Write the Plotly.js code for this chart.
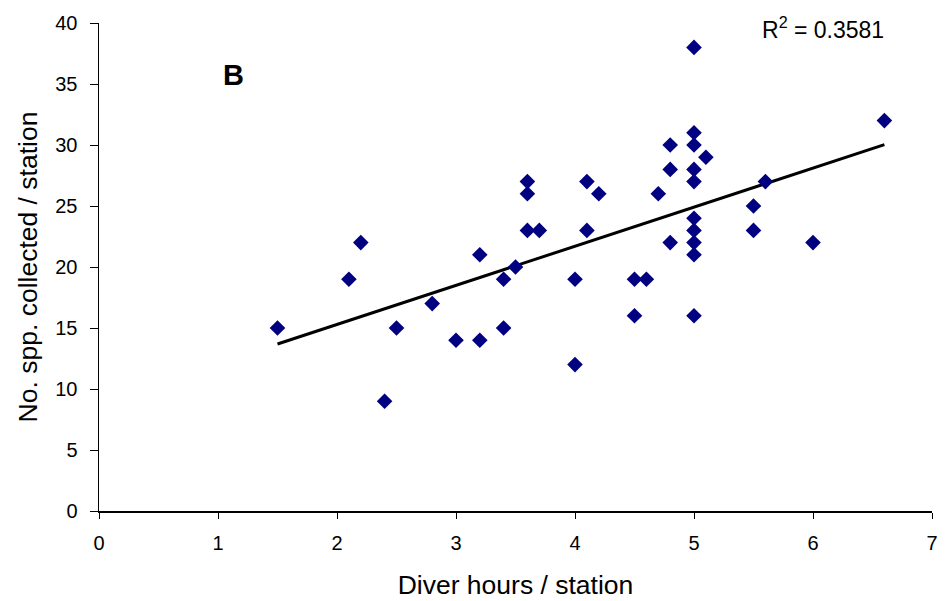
<!DOCTYPE html>
<html>
<head>
<meta charset="utf-8">
<script src="https://cdn.plot.ly/plotly-3.0.1.min.js"></script>
<style>html,body{margin:0;padding:0;background:#fff;}#chart{width:949px;height:601px;}</style>
</head>
<body>
<div id="chart"></div>
<script>
// Diver hours per station
const diverHours = [1.5, 2.1, 2.2, 2.4, 2.5, 2.8, 3.0, 3.2, 3.2, 3.4, 3.4, 3.5,
  3.6, 3.6, 3.6, 3.7, 4.0, 4.0, 4.1, 4.1, 4.2, 4.5, 4.5, 4.6, 4.7,
  4.8, 4.8, 4.8, 5.0, 5.0, 5.0, 5.0, 5.0, 5.0, 5.0, 5.0, 5.0, 5.0,
  5.1, 5.5, 5.5, 5.6, 6.0, 6.6];
// Number of species collected per station
const speciesCount = [15, 19, 22, 9, 15, 17, 14, 21, 14, 19, 15, 20,
  27, 26, 23, 23, 19, 12, 27, 23, 26, 19, 16, 19, 26,
  30, 28, 22, 38, 31, 30, 28, 27, 24, 23, 22, 21, 16,
  29, 25, 23, 27, 22, 32];
const xTicks = [0, 1, 2, 3, 4, 5, 6, 7];
const yTicks = [0, 5, 10, 15, 20, 25, 30, 35, 40];
const r2Label = 'R<sup>2</sup> = 0.3581';
const panelLabel = 'B';

// Least-squares trend line computed from the data
const n = diverHours.length;
const mx = diverHours.reduce((a, b) => a + b, 0) / n;
const my = speciesCount.reduce((a, b) => a + b, 0) / n;
let sxy = 0, sxx = 0;
for (let i = 0; i < n; i++) { sxy += (diverHours[i] - mx) * (speciesCount[i] - my); sxx += (diverHours[i] - mx) ** 2; }
const slope = sxy / sxx, intercept = my - slope * mx;
const xMin = Math.min(...diverHours), xMax = Math.max(...diverHours);
const trendX = [xMin, xMax];
const trendY = trendX.map(x => intercept + slope * x);

const font = 'Arial, "Liberation Sans", sans-serif';
const data = [
  { x: trendX, y: trendY, mode: 'lines', type: 'scatter', line: { color: '#000000', width: 3 }, hoverinfo: 'skip', showlegend: false },
  { x: diverHours, y: speciesCount, mode: 'markers', type: 'scatter',
    marker: { symbol: 'diamond', size: 12, color: '#000080', line: { width: 0 } }, showlegend: false }
];
const layout = {
  width: 949, height: 601,
  margin: { l: 99, r: 17, t: 23, b: 90 },
  paper_bgcolor: '#ffffff', plot_bgcolor: '#ffffff',
  font: { family: font, color: '#000000', size: 20 },
  showlegend: false,
  xaxis: {
    range: [0, 7], tickvals: xTicks, ticktext: xTicks.map(String),
    showgrid: false, zeroline: false, showline: true, linecolor: '#000000', linewidth: 1.5,
    ticks: 'outside', ticklen: 6, tickcolor: '#000000', tickwidth: 1,
    ticklabelstandoff: 7,
    tickfont: { family: font, size: 20 },
    title: { text: 'Diver hours / station', font: { family: font, size: 26.5 }, standoff: 23 }
  },
  yaxis: {
    range: [0, 40], tickvals: yTicks, ticktext: yTicks.map(String),
    showgrid: false, zeroline: false, showline: true, linecolor: '#000000', linewidth: 1.5,
    ticks: 'outside', ticklen: 8, tickcolor: '#000000', tickwidth: 1,
    ticklabelstandoff: 8,
    tickfont: { family: font, size: 20 },
    title: { text: 'No. spp. collected / station', font: { family: font, size: 26.5 }, standoff: 10 }
  },
  annotations: [
    { text: '<b>' + panelLabel + '</b>', xref: 'paper', yref: 'paper', x: 0.161, y: 0.893, xanchor: 'center', yanchor: 'middle', showarrow: false, font: { family: font, size: 29 } },
    { text: r2Label, xref: 'paper', yref: 'paper', x: 0.869, y: 0.99, xanchor: 'center', yanchor: 'middle', showarrow: false, font: { family: font, size: 23 } }
  ]
};
Plotly.newPlot('chart', data, layout, { displayModeBar: false, staticPlot: true });
</script>
</body>
</html>
